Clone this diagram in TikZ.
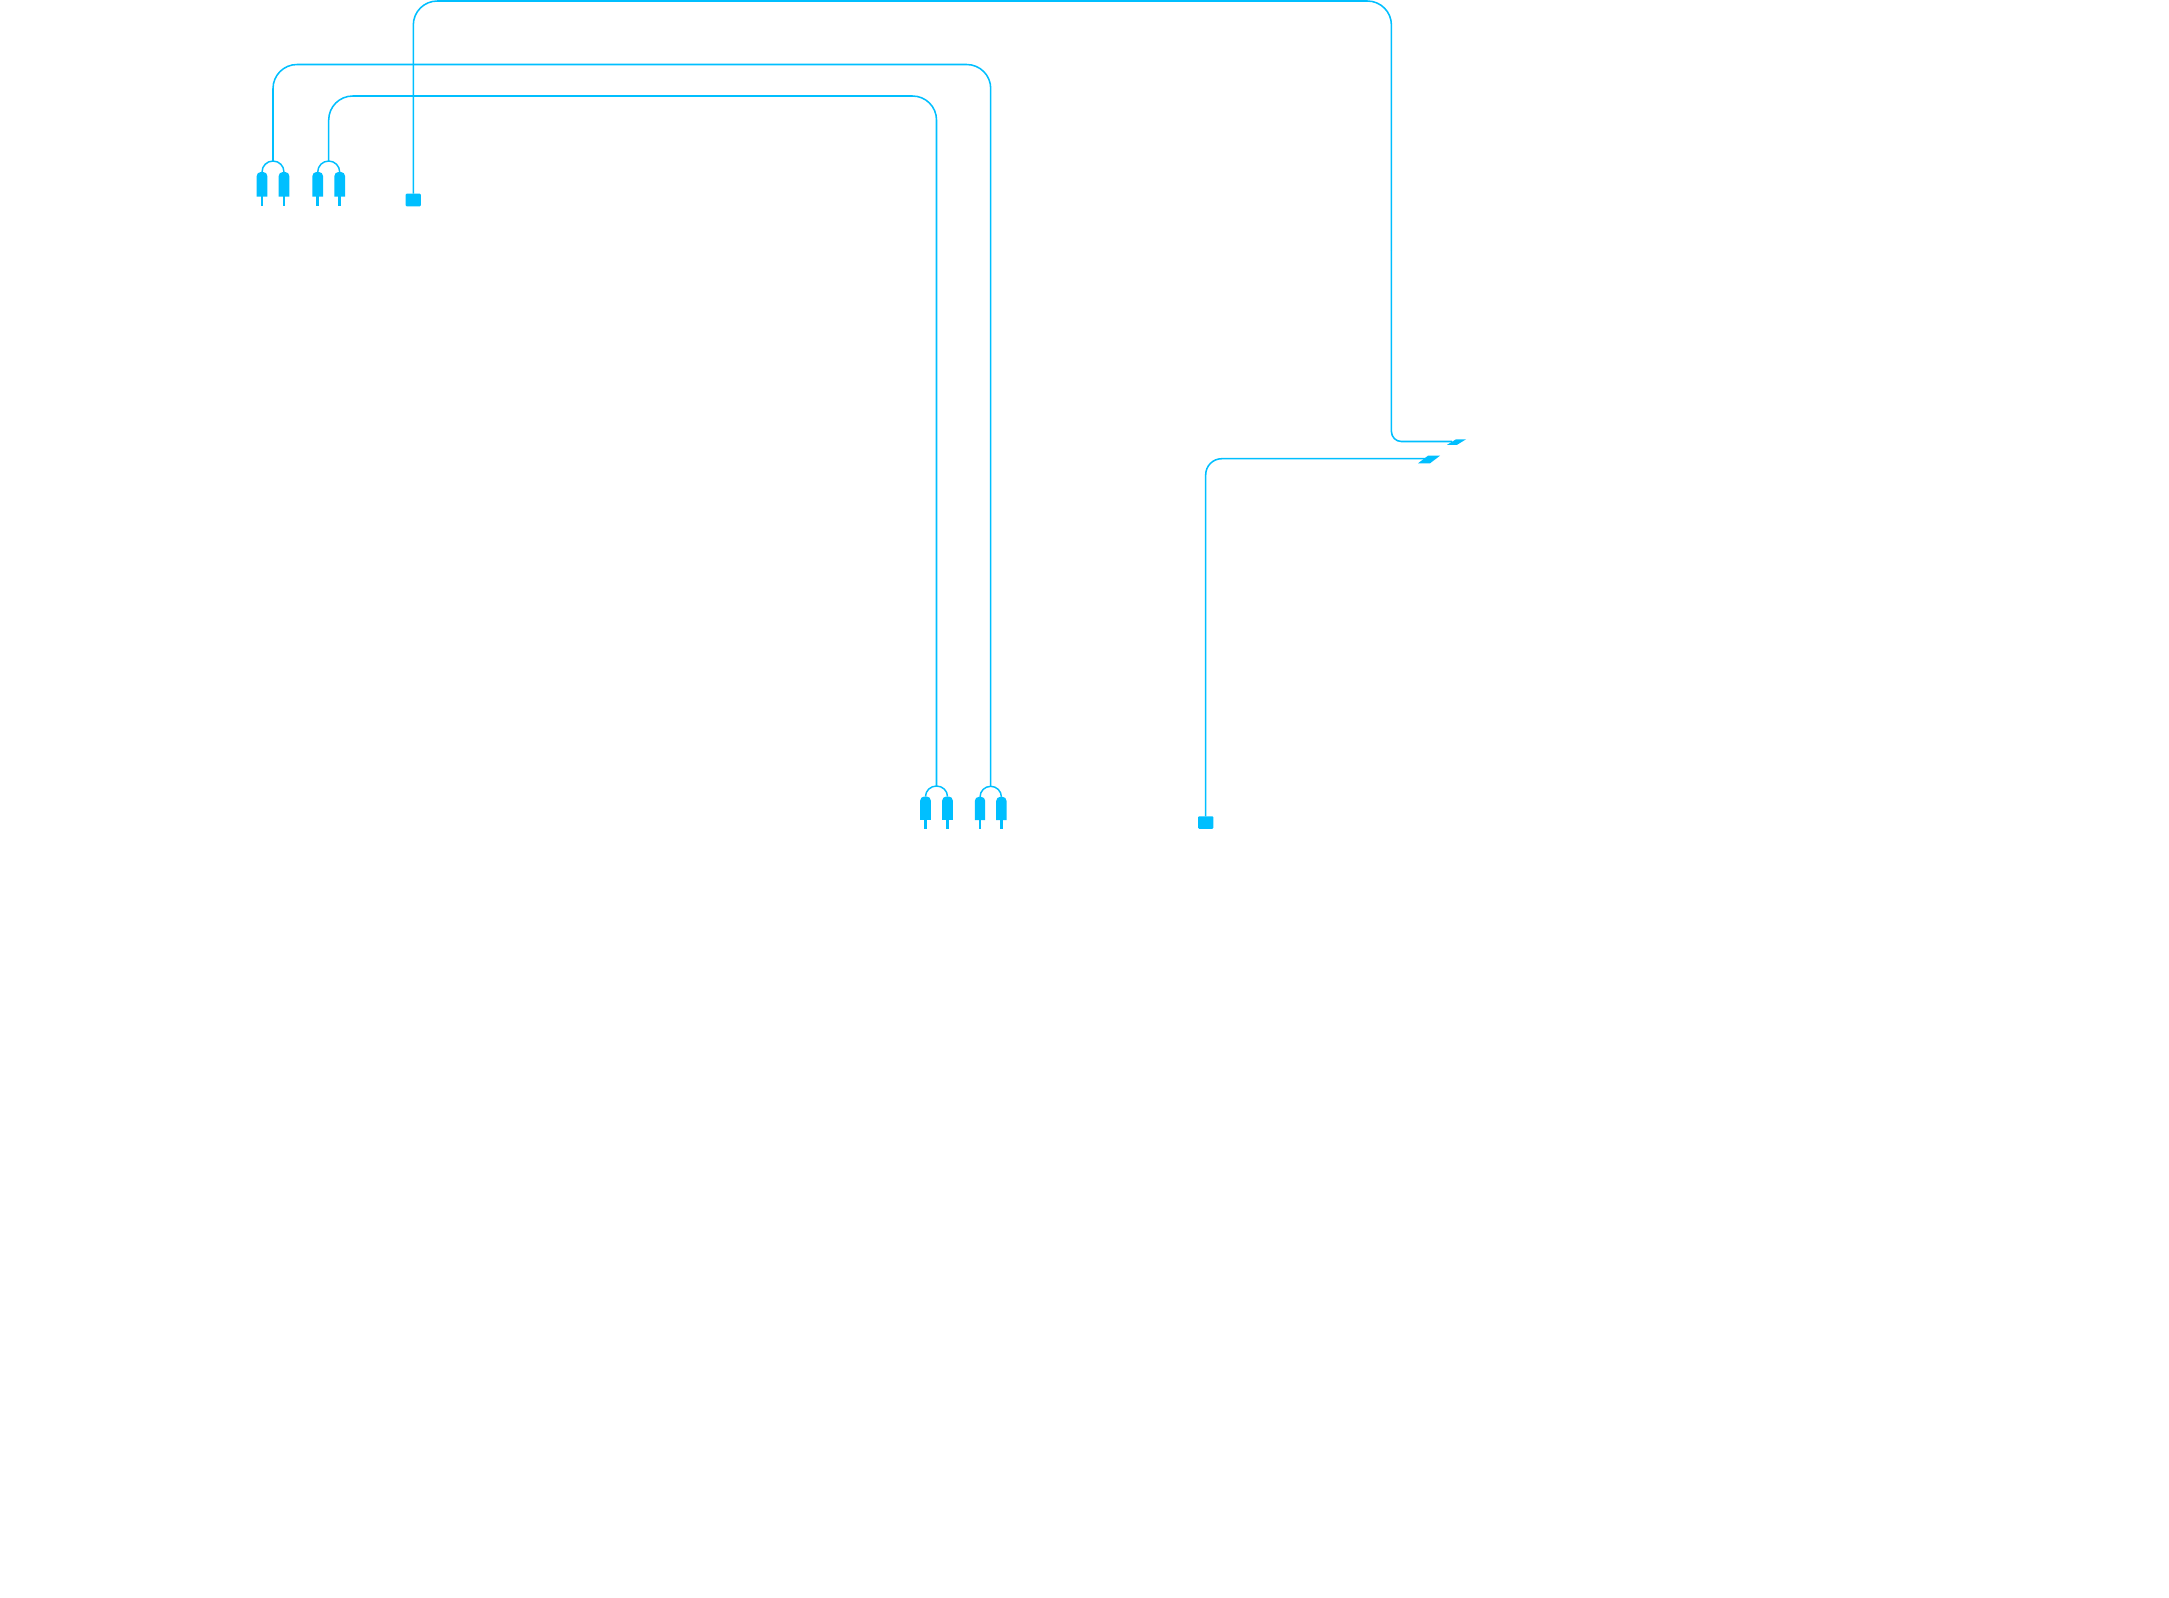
\documentclass[tikz,border=0pt]{standalone}
\definecolor{cable}{RGB}{0,191,255}
\tikzset{
  wire/.style={draw=cable,line width=1.15pt,rounded corners=#1},
  wire/.default=18pt,
  blob/.style={fill=cable,draw=none},
  jack/.style={fill=cable,draw=none,rounded corners=0.8pt,minimum width=11.5pt,minimum height=9.4pt,inner sep=0pt,outer sep=0pt},
  pics/rca/.style={code={
    \draw[draw=cable,line width=1.1pt] (-11,11) arc[start angle=180,end angle=360,x radius=11,y radius=11];
    \foreach \s in {-11,11}{
      \fill[cable,rounded corners=3pt] (\s-5.3,35.5) [sharp corners] -- (\s-5.3,35.5) [rounded corners=3pt] -- (\s-5.3,11) -- (\s+5.3,11) [sharp corners] -- (\s+5.3,35.5) -- cycle;
      \fill[cable] (\s-1.4,35) rectangle (\s+1.4,45);
    }
  }}
}
\begin{document}
\begin{tikzpicture}[x=0.75pt,y=-0.75pt]
\useasboundingbox[fill=white] (0,0) rectangle (2169,1597);
% plug pairs
\pic at (273,161) {rca};
\pic at (328.7,161) {rca};
\pic[yscale=0.955] at (936.5,786) {rca};
\pic[yscale=0.955,xscale=0.97] at (990.7,786.3) {rca};
\coordinate (a) at (273,161);
\coordinate (b) at (328.7,161);
\coordinate (c) at (936.5,786);
\coordinate (d) at (990.7,786.3);
% square jacks
\node[jack] (s1) at (413.3,200) {};
\node[jack] (s2) at (1205.7,822.5) {};
% routing levels
\coordinate (top1) at (600,64.5);
\coordinate (top2) at (600,96);
\coordinate (top3) at (800,1);
\coordinate (side) at (1391.4,250);
\coordinate (e1) at (1452,441.5);
\coordinate (e2) at (1426,458.7);
% angled tips
\fill[blob] (1447,444.8) -- (1456,439.3) -- (1466,439.3) -- (1457,444.8) -- cycle;
\fill[blob] (1418,463.3) -- (1428,455.7) -- (1440,455.7) -- (1430,463.3) -- cycle;
% connectors
\draw[wire] (a) |- (top1) -| (d);
\draw[wire] (b) |- (top2) -| (c);
\draw[wire] (s1.north) |- (top3) -| (side);
\draw[wire=7.5pt] (side) |- (e1);
\draw[wire=12pt] (s2.north) |- (e2);
\end{tikzpicture}
\end{document}
